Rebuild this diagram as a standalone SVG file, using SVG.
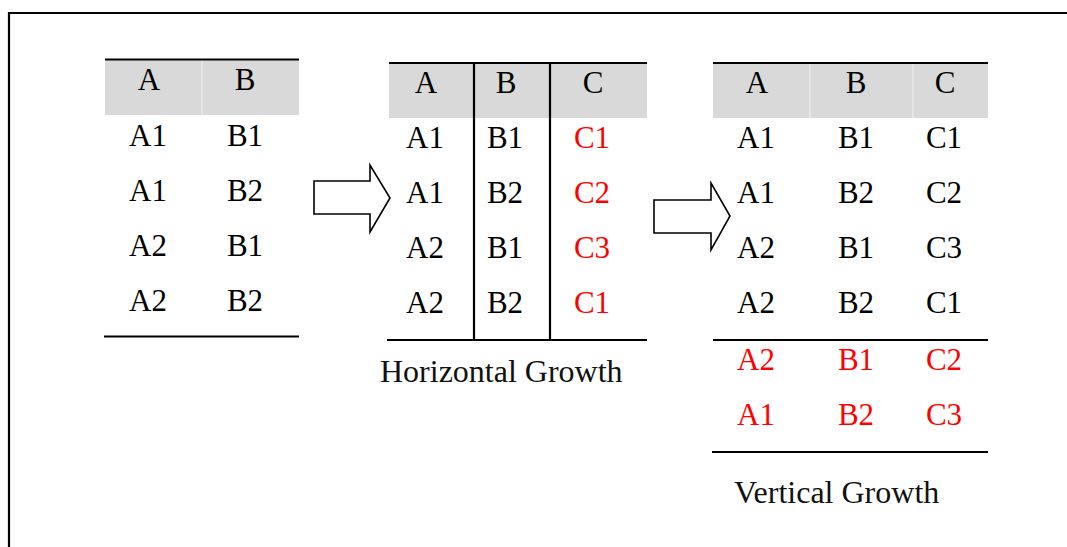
<svg xmlns="http://www.w3.org/2000/svg" width="1067" height="547" viewBox="0 0 1067 547">
  <style>
    text { font-family: "Liberation Serif", "Times New Roman", serif; font-size: 31px; fill: #000; text-anchor: middle; }
    text.new { fill: #ff0000; }
    text.cap { text-anchor: start; fill: #111; font-size: 32px; }
    .hdr { fill: #d9d9d9; }
    .rule { stroke: #000; stroke-width: 2.2; fill: none; }
    .sep { stroke: #f2f2f2; stroke-width: 1; }
    .arrow { fill: #fff; stroke: #000; stroke-width: 1.6; stroke-linejoin: miter; }
  </style>

  <!-- outer frame (top and left edges) -->
  <path class="rule" d="M9,547 V13 H1067"/>

  <!-- source table: columns A, B -->
  <g id="table-source">
    <rect class="hdr" x="105" y="60" width="194" height="55"/>
    <line class="sep" x1="202" y1="60" x2="202" y2="115"/>
    <line class="rule" x1="105" y1="59.5" x2="299" y2="59.5"/>
    <text x="149" y="90">A</text>
    <text x="245" y="90">B</text>
    <text x="148" y="146">A1</text><text x="245" y="146">B1</text>
    <text x="148" y="201">A1</text><text x="245" y="201">B2</text>
    <text x="148" y="256">A2</text><text x="245" y="256">B1</text>
    <text x="148" y="311">A2</text><text x="245" y="311">B2</text>
    <line class="rule" x1="104" y1="336.5" x2="299" y2="336.5"/>
  </g>

  <!-- table after adding column C -->
  <g id="table-horizontal">
    <rect class="hdr" x="389" y="63" width="258" height="55"/>
    <line class="rule" x1="389" y1="63" x2="647" y2="63"/>
    <line class="rule" x1="474" y1="63" x2="474" y2="340"/>
    <line class="rule" x1="550" y1="63" x2="550" y2="340"/>
    <text x="426" y="93">A</text>
    <text x="506" y="93">B</text>
    <text x="593" y="93">C</text>
    <text x="425" y="148">A1</text><text x="505" y="148">B1</text><text class="new" x="592" y="148">C1</text>
    <text x="425" y="203">A1</text><text x="505" y="203">B2</text><text class="new" x="592" y="203">C2</text>
    <text x="425" y="258">A2</text><text x="505" y="258">B1</text><text class="new" x="592" y="258">C3</text>
    <text x="425" y="313">A2</text><text x="505" y="313">B2</text><text class="new" x="592" y="313">C1</text>
    <line class="rule" x1="387" y1="340" x2="647" y2="340"/>
    <text class="cap" x="380" y="382">Horizontal Growth</text>
  </g>

  <!-- table after adding rows -->
  <g id="table-vertical">
    <rect class="hdr" x="713" y="63" width="275" height="55"/>
    <line class="sep" x1="810" y1="63" x2="810" y2="118"/>
    <line class="sep" x1="913" y1="63" x2="913" y2="118"/>
    <line class="rule" x1="713" y1="63" x2="988" y2="63"/>
    <text x="757" y="93">A</text>
    <text x="856" y="93">B</text>
    <text x="945" y="93">C</text>
    <text x="756" y="148">A1</text><text x="856" y="148">B1</text><text x="944" y="148">C1</text>
    <text x="756" y="203">A1</text><text x="856" y="203">B2</text><text x="944" y="203">C2</text>
    <text x="756" y="258">A2</text><text x="856" y="258">B1</text><text x="944" y="258">C3</text>
    <text x="756" y="313">A2</text><text x="856" y="313">B2</text><text x="944" y="313">C1</text>
    <line class="rule" x1="713" y1="340" x2="988" y2="340"/>
    <text class="new" x="756" y="370">A2</text><text class="new" x="856" y="370">B1</text><text class="new" x="944" y="370">C2</text>
    <text class="new" x="756" y="425">A1</text><text class="new" x="856" y="425">B2</text><text class="new" x="944" y="425">C3</text>
    <line class="rule" x1="712" y1="452" x2="988" y2="452"/>
    <text class="cap" x="734" y="503">Vertical Growth</text>
  </g>

  <!-- block arrows between stages -->
  <g id="connectors">
    <path class="arrow" d="M314,181 H370 V165 L390,198 L370,232 V214 H314 Z"/>
    <path class="arrow" d="M654,200 H711 V183 L730,216 L711,250 V233 H654 Z"/>
  </g>
</svg>
